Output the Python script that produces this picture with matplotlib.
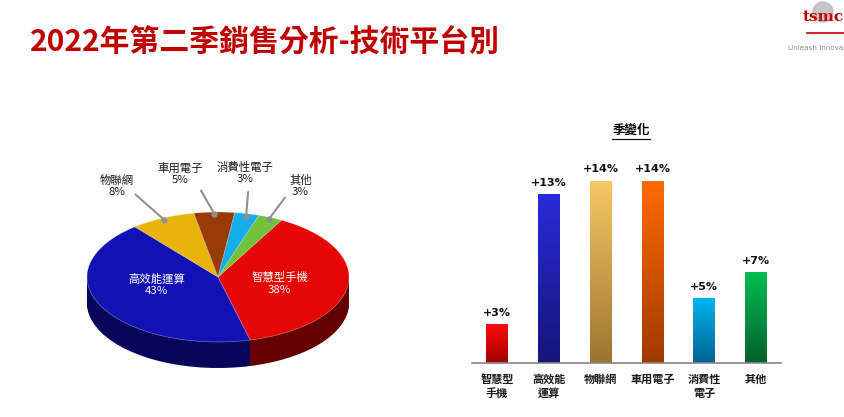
import matplotlib.pyplot as plt
import matplotlib.colors as mcolors
import numpy as np

plt.rcParams['font.family'] = ['Noto Sans CJK TC', 'DejaVu Sans']

# pie: revenue share by platform
pie_labels = ['智慧型手機', '高效能運算', '物聯網', '車用電子', '消費性電子', '其他']
pie_share = [38, 43, 8, 5, 3, 3]
pie_top = ['#e50606', '#1212b4', '#e8b40c', '#9a3a06', '#16aeea', '#72c23c']
pie_side = ['#640000', '#06065a', '#8a6400', '#4a1800', '#0a5a80', '#3a6a1a']

# bars: quarter-on-quarter change
bar_labels = ['智慧型\n手機', '高效能\n運算', '物聯網', '車用電子', '消費性\n電子', '其他']
bar_change = [3, 13, 14, 14, 5, 7]
bar_top = ['#ff0a0a', '#2a2ad8', '#f7c866', '#ff6a00', '#00b4f4', '#00c050']
bar_bot = ['#a00000', '#15157a', '#9c7430', '#a03a00', '#00628e', '#00602c']

fig = plt.figure(figsize=(8.44, 4.17), dpi=100)
W, H = 844, 417

def fx(px):
    return px / W

def fy(py):
    return 1 - py / H

# overlay in pixel coords for title + logo
ov = fig.add_axes([0, 0, 1, 1])
ov.set_xlim(0, W)
ov.set_ylim(H, 0)
ov.axis('off')

ov.text(30, 43, '2022年第二季銷售分析-技術平台別', color='#c00000',
        fontsize=21.5, fontweight='bold', va='center', ha='left')

# logo
ov.add_patch(plt.Circle((823, 12), 10, color='#b0b0b0', alpha=0.7))
ov.text(823, 17, 'tsmc', color='#c00000', fontsize=11, fontweight='bold',
        ha='center', va='center', family='DejaVu Serif')
ov.plot([807, 844], [33, 33], color='#c00000', lw=1.2)
ov.text(843, 48, 'Unleash Innova', color='#8a8a8a', fontsize=5.2,
        va='center', ha='right', family='DejaVu Sans')

# ---- pie ----
cx, cy, rx, ry = 218, 277, 131, 65
ylo, yhi = -1.7, 2.0
axp = fig.add_axes([fx(cx - 1.25 * rx), fy(cy - ylo * ry),
                    2.5 * rx / W, (yhi - ylo) * ry / H])
depth = 0.4
start = 61
for d in np.linspace(depth, 0.02, 25):
    axp.pie(pie_share, colors=pie_side, startangle=start, counterclock=False,
            center=(0, -d), radius=1, frame=False,
            wedgeprops=dict(linewidth=0))
wedges, _ = axp.pie(pie_share, colors=pie_top, startangle=start, counterclock=False,
                    center=(0, 0), radius=1, frame=False,
                    wedgeprops=dict(linewidth=0.4, edgecolor='#ffffff80'))
axp.set_aspect('auto')
axp.set_xlim(-1.25, 1.25)
axp.set_ylim(ylo, yhi)
axp.axis('off')

def mid_angle(i):
    before = sum(pie_share[:i])
    return np.deg2rad(start - 360 * (before + pie_share[i] / 2) / sum(pie_share))

inner_pos = {0: (0.47, -0.1), 1: (-0.47, -0.12)}
for i, (x, y) in inner_pos.items():
    axp.text(x, y, f'{pie_labels[i]}\n{pie_share[i]}%', color='white', fontsize=8.2,
             ha='center', va='center', linespacing=1.2)

outer_txt = {2: (-0.77, 1.40), 3: (-0.29, 1.58), 4: (0.21, 1.60), 5: (0.63, 1.40)}
outer_start = {2: (-0.63, 1.27), 3: (-0.13, 1.33), 4: (0.23, 1.31), 5: (0.51, 1.22)}
for i in outer_txt:
    a = mid_angle(i)
    ax_, ay_ = 0.97 * np.cos(a), 0.97 * np.sin(a)
    sx, sy = outer_start[i]
    axp.plot([sx, ax_], [sy, ay_], color='#909090', lw=1.5, solid_capstyle='round', clip_on=False)
    axp.plot([ax_], [ay_], 'o', color='#909090', ms=3.5, clip_on=False)
    tx, ty = outer_txt[i]
    axp.text(tx, ty, f'{pie_labels[i]}\n{pie_share[i]}%', color='#1a1a1a', fontsize=8.2,
             ha='center', va='center', linespacing=1.15, clip_on=False)

# ---- bars ----
base_px, unit = 363, 13.0
x0_px, step = 497, 51.8
xl, xr = -(x0_px - 472) / step, (781 - x0_px) / step
ytop = 16
axb = fig.add_axes([fx(472), fy(base_px), (781 - 472) / W, ytop * unit / H])
xs = np.arange(len(bar_change))
bars = axb.bar(xs, bar_change, width=0.42, color='none', edgecolor='none')
grad = np.linspace(1, 0, 256).reshape(-1, 1)
for b, c1, c2 in zip(bars, bar_top, bar_bot):
    cmap = mcolors.LinearSegmentedColormap.from_list('g', [c2, c1])
    x, w, h = b.get_x(), b.get_width(), b.get_height()
    im = axb.imshow(grad, cmap=cmap, extent=[x, x + w, 0, h], aspect='auto',
                    origin='upper', zorder=2)
    im.set_clip_path(b)
for x, v in zip(xs, bar_change):
    axb.text(x, v + 0.5, f'+{v}%', ha='center', va='bottom', fontsize=8,
             fontweight='bold', color='#111111', family='DejaVu Sans')
axb.set_xlim(xl, xr)
axb.set_ylim(0, ytop)
for s in ['top', 'right', 'left']:
    axb.spines[s].set_visible(False)
axb.spines['bottom'].set_color('#888888')
axb.spines['bottom'].set_linewidth(1.2)
axb.set_yticks([])
axb.set_xticks(xs)
axb.set_xticklabels(bar_labels, fontsize=8, color='#1a1a1a', fontweight='bold',
                    linespacing=1.15, va='top')
axb.tick_params(axis='x', length=0, pad=7)

ov.text(631, 130, '季變化', fontsize=9, fontweight='bold', ha='center', va='center')
ov.plot([612, 650], [139, 139], color='#111111', lw=0.9)

fig.savefig('out.png', dpi=100)
